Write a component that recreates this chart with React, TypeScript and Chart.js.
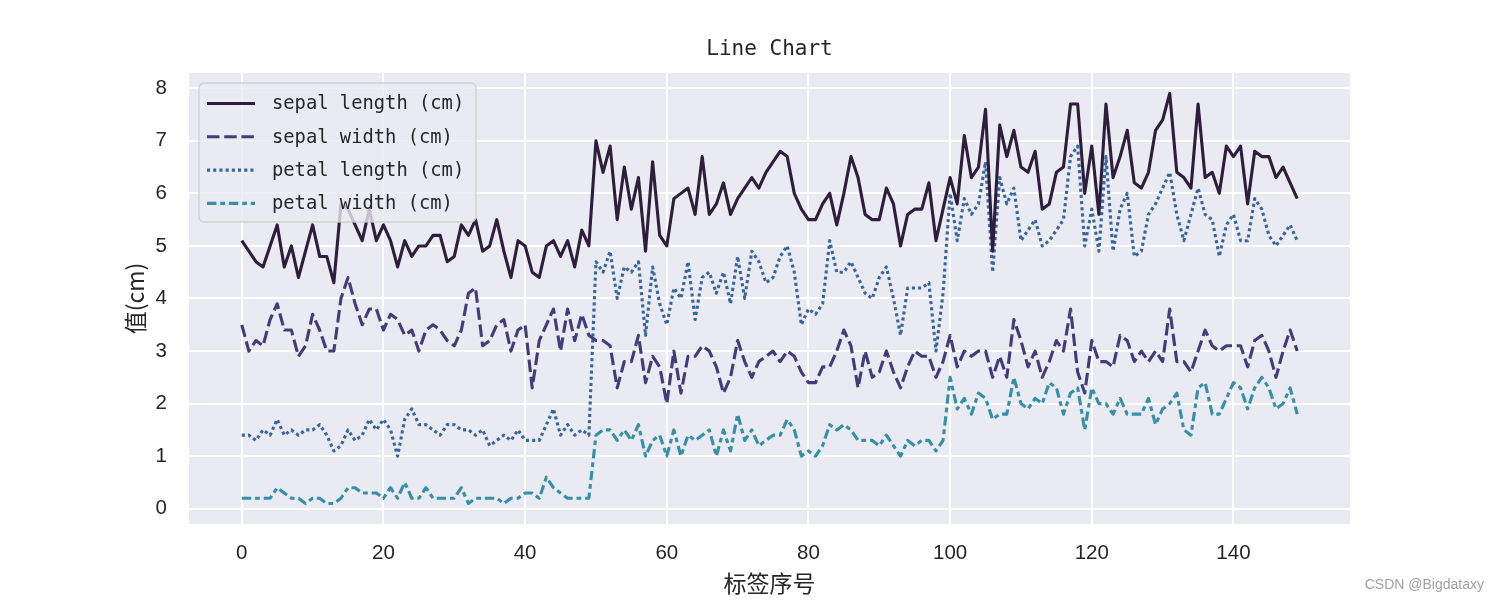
import React, { useEffect, useRef } from "react";
import { Chart, registerables } from "chart.js";

Chart.register(...registerables);

const chartTitle = "Line Chart";
const xAxisTitle = "标签序号";
const yAxisTitle = "值(cm)";
const watermark = "CSDN @Bigdataxy";

const seriesNames = ["sepal length (cm)", "sepal width (cm)", "petal length (cm)", "petal width (cm)"];
const seriesColors = ["#2e1e3b", "#413d7b", "#37659e", "#348fa7"];
const seriesDashes: number[][] = [[], [12.5, 4.7], [3.1, 3.1], [9.4, 3.9, 4.7, 3.9]];

const sepalLength = [
  5.1, 4.9, 4.7, 4.6, 5.0, 5.4, 4.6, 5.0, 4.4, 4.9, 5.4, 4.8, 4.8, 4.3, 5.8, 5.7, 5.4, 5.1, 5.7, 5.1,
  5.4, 5.1, 4.6, 5.1, 4.8, 5.0, 5.0, 5.2, 5.2, 4.7, 4.8, 5.4, 5.2, 5.5, 4.9, 5.0, 5.5, 4.9, 4.4, 5.1,
  5.0, 4.5, 4.4, 5.0, 5.1, 4.8, 5.1, 4.6, 5.3, 5.0,
  7.0, 6.4, 6.9, 5.5, 6.5, 5.7, 6.3, 4.9, 6.6, 5.2, 5.0, 5.9, 6.0, 6.1, 5.6, 6.7, 5.6, 5.8, 6.2, 5.6,
  5.9, 6.1, 6.3, 6.1, 6.4, 6.6, 6.8, 6.7, 6.0, 5.7, 5.5, 5.5, 5.8, 6.0, 5.4, 6.0, 6.7, 6.3, 5.6, 5.5,
  5.5, 6.1, 5.8, 5.0, 5.6, 5.7, 5.7, 6.2, 5.1, 5.7,
  6.3, 5.8, 7.1, 6.3, 6.5, 7.6, 4.9, 7.3, 6.7, 7.2, 6.5, 6.4, 6.8, 5.7, 5.8, 6.4, 6.5, 7.7, 7.7, 6.0,
  6.9, 5.6, 7.7, 6.3, 6.7, 7.2, 6.2, 6.1, 6.4, 7.2, 7.4, 7.9, 6.4, 6.3, 6.1, 7.7, 6.3, 6.4, 6.0, 6.9,
  6.7, 6.9, 5.8, 6.8, 6.7, 6.7, 6.3, 6.5, 6.2, 5.9,
];
const sepalWidth = [
  3.5, 3.0, 3.2, 3.1, 3.6, 3.9, 3.4, 3.4, 2.9, 3.1, 3.7, 3.4, 3.0, 3.0, 4.0, 4.4, 3.9, 3.5, 3.8, 3.8,
  3.4, 3.7, 3.6, 3.3, 3.4, 3.0, 3.4, 3.5, 3.4, 3.2, 3.1, 3.4, 4.1, 4.2, 3.1, 3.2, 3.5, 3.6, 3.0, 3.4,
  3.5, 2.3, 3.2, 3.5, 3.8, 3.0, 3.8, 3.2, 3.7, 3.3,
  3.2, 3.2, 3.1, 2.3, 2.8, 2.8, 3.3, 2.4, 2.9, 2.7, 2.0, 3.0, 2.2, 2.9, 2.9, 3.1, 3.0, 2.7, 2.2, 2.5,
  3.2, 2.8, 2.5, 2.8, 2.9, 3.0, 2.8, 3.0, 2.9, 2.6, 2.4, 2.4, 2.7, 2.7, 3.0, 3.4, 3.1, 2.3, 3.0, 2.5,
  2.6, 3.0, 2.6, 2.3, 2.7, 3.0, 2.9, 2.9, 2.5, 2.8,
  3.3, 2.7, 3.0, 2.9, 3.0, 3.0, 2.5, 2.9, 2.5, 3.6, 3.2, 2.7, 3.0, 2.5, 2.8, 3.2, 3.0, 3.8, 2.6, 2.2,
  3.2, 2.8, 2.8, 2.7, 3.3, 3.2, 2.8, 3.0, 2.8, 3.0, 2.8, 3.8, 2.8, 2.8, 2.6, 3.0, 3.4, 3.1, 3.0, 3.1,
  3.1, 3.1, 2.7, 3.2, 3.3, 3.0, 2.5, 3.0, 3.4, 3.0,
];
const petalLength = [
  1.4, 1.4, 1.3, 1.5, 1.4, 1.7, 1.4, 1.5, 1.4, 1.5, 1.5, 1.6, 1.4, 1.1, 1.2, 1.5, 1.3, 1.4, 1.7, 1.5,
  1.7, 1.5, 1.0, 1.7, 1.9, 1.6, 1.6, 1.5, 1.4, 1.6, 1.6, 1.5, 1.5, 1.4, 1.5, 1.2, 1.3, 1.4, 1.3, 1.5,
  1.3, 1.3, 1.3, 1.6, 1.9, 1.4, 1.6, 1.4, 1.5, 1.4,
  4.7, 4.5, 4.9, 4.0, 4.6, 4.5, 4.7, 3.3, 4.6, 3.9, 3.5, 4.2, 4.0, 4.7, 3.6, 4.4, 4.5, 4.1, 4.5, 3.9,
  4.8, 4.0, 4.9, 4.7, 4.3, 4.4, 4.8, 5.0, 4.5, 3.5, 3.8, 3.7, 3.9, 5.1, 4.5, 4.5, 4.7, 4.4, 4.1, 4.0,
  4.4, 4.6, 4.0, 3.3, 4.2, 4.2, 4.2, 4.3, 3.0, 4.1,
  6.0, 5.1, 5.9, 5.6, 5.8, 6.6, 4.5, 6.3, 5.8, 6.1, 5.1, 5.3, 5.5, 5.0, 5.1, 5.3, 5.5, 6.7, 6.9, 5.0,
  5.7, 4.9, 6.7, 4.9, 5.7, 6.0, 4.8, 4.9, 5.6, 5.8, 6.1, 6.4, 5.6, 5.1, 5.6, 6.1, 5.6, 5.5, 4.8, 5.4,
  5.6, 5.1, 5.1, 5.9, 5.7, 5.2, 5.0, 5.2, 5.4, 5.1,
];
const petalWidth = [
  0.2, 0.2, 0.2, 0.2, 0.2, 0.4, 0.3, 0.2, 0.2, 0.1, 0.2, 0.2, 0.1, 0.1, 0.2, 0.4, 0.4, 0.3, 0.3, 0.3,
  0.2, 0.4, 0.2, 0.5, 0.2, 0.2, 0.4, 0.2, 0.2, 0.2, 0.2, 0.4, 0.1, 0.2, 0.2, 0.2, 0.2, 0.1, 0.2, 0.2,
  0.3, 0.3, 0.2, 0.6, 0.4, 0.3, 0.2, 0.2, 0.2, 0.2,
  1.4, 1.5, 1.5, 1.3, 1.5, 1.3, 1.6, 1.0, 1.3, 1.4, 1.0, 1.5, 1.0, 1.4, 1.3, 1.4, 1.5, 1.0, 1.5, 1.1,
  1.8, 1.3, 1.5, 1.2, 1.3, 1.4, 1.4, 1.7, 1.5, 1.0, 1.1, 1.0, 1.2, 1.6, 1.5, 1.6, 1.5, 1.3, 1.3, 1.3,
  1.2, 1.4, 1.2, 1.0, 1.3, 1.2, 1.3, 1.3, 1.1, 1.3,
  2.5, 1.9, 2.1, 1.8, 2.2, 2.1, 1.7, 1.8, 1.8, 2.5, 2.0, 1.9, 2.1, 2.0, 2.4, 2.3, 1.8, 2.2, 2.3, 1.5,
  2.3, 2.0, 2.0, 1.8, 2.1, 1.8, 1.8, 1.8, 2.1, 1.6, 1.9, 2.0, 2.2, 1.5, 1.4, 2.3, 2.4, 1.8, 1.8, 2.1,
  2.4, 2.3, 1.9, 2.3, 2.5, 2.3, 1.9, 2.0, 2.3, 1.8,
];

const xTicks = [0, 20, 40, 60, 80, 100, 120, 140];
const yTicks = [0, 1, 2, 3, 4, 5, 6, 7, 8];

const seriesValues = [sepalLength, sepalWidth, petalLength, petalWidth];

const TEXT = "#262626";
const LINE_W = 3.1;

const bgPlugin = {
  id: "axesBg",
  beforeDraw(chart: any) {
    const { ctx, chartArea } = chart;
    ctx.save();
    ctx.fillStyle = "#eaeaf2";
    ctx.fillRect(chartArea.left, chartArea.top, chartArea.right - chartArea.left, chartArea.bottom - chartArea.top);
    ctx.restore();
  },
};

const legendPlugin = {
  id: "mplLegend",
  afterDraw(chart: any) {
    const { ctx, chartArea } = chart;
    ctx.save();

    // title centred over the axes area
    ctx.fillStyle = TEXT;
    ctx.font = "21px 'DejaVu Sans Mono'";
    ctx.textAlign = "center";
    ctx.textBaseline = "middle";
    ctx.fillText(chartTitle, (chartArea.left + chartArea.right) / 2, 50);

    const x0 = 199, y0 = 83, w = 277, h = 139, r = 5;
    ctx.beginPath();
    ctx.moveTo(x0 + r, y0);
    ctx.arcTo(x0 + w, y0, x0 + w, y0 + h, r);
    ctx.arcTo(x0 + w, y0 + h, x0, y0 + h, r);
    ctx.arcTo(x0, y0 + h, x0, y0, r);
    ctx.arcTo(x0, y0, x0 + w, y0, r);
    ctx.closePath();
    ctx.fillStyle = "rgba(234,234,242,0.8)";
    ctx.fill();
    ctx.strokeStyle = "rgba(204,204,204,0.8)";
    ctx.lineWidth = 1.4;
    ctx.stroke();

    chart.data.datasets.forEach((ds: any, i: number) => {
      const cy = 103.5 + i * 33.3;
      ctx.beginPath();
      ctx.setLineDash(ds.borderDash || []);
      ctx.lineCap = "butt";
      ctx.strokeStyle = ds.borderColor;
      ctx.lineWidth = LINE_W;
      ctx.moveTo(207, cy);
      ctx.lineTo(255, cy);
      ctx.stroke();
      ctx.setLineDash([]);
      ctx.fillStyle = TEXT;
      ctx.font = "18.8px 'DejaVu Sans Mono'";
      ctx.textBaseline = "middle";
      ctx.textAlign = "left";
      ctx.fillText(ds.label, 272, cy + 1);
    });

    ctx.font = "14px 'Liberation Sans', Arial, sans-serif";
    ctx.fillStyle = "#a0a0a0";
    ctx.textAlign = "right";
    ctx.textBaseline = "alphabetic";
    ctx.fillText(watermark, 1484, 589);
    ctx.restore();
  },
};

export default function App() {
  const ref = useRef<HTMLCanvasElement | null>(null);

  useEffect(() => {
    if (!ref.current) return;
    const datasets = seriesNames.map((name, i) => ({
      label: name,
      data: seriesValues[i].map((v, idx) => ({ x: idx, y: v })),
      borderColor: seriesColors[i],
      backgroundColor: seriesColors[i],
      borderWidth: LINE_W,
      borderDash: seriesDashes[i],
      borderCapStyle: "butt" as const,
      borderJoinStyle: "round" as const,
      pointRadius: 0,
      pointHoverRadius: 0,
      tension: 0,
      fill: false,
    }));

    const chart = new Chart(ref.current, {
      type: "line",
      data: { datasets },
      plugins: [bgPlugin, legendPlugin],
      options: {
        responsive: false,
        animation: false,
        devicePixelRatio: 1,
        layout: { padding: { left: 0, right: 150, top: 73, bottom: 0 } },
        plugins: {
          legend: { display: false },
          tooltip: { enabled: false },
          title: { display: false },
        },
        scales: {
          x: {
            type: "linear",
            min: -7.45,
            max: 156.45,
            afterBuildTicks: (axis: any) => {
              axis.ticks = xTicks.map((v) => ({ value: v }));
            },
            afterFit: (axis: any) => {
              axis.height = 76;
            },
            grid: { color: "#ffffff", lineWidth: 2, drawTicks: false },
            border: { display: false },
            ticks: {
              color: TEXT,
              padding: 17,
              maxRotation: 0,
              autoSkip: false,
              font: { family: "'Liberation Sans', Arial, sans-serif", size: 20.5 },
            },
            title: {
              display: true,
              text: xAxisTitle,
              color: TEXT,
              font: { family: "'Noto Sans CJK SC'", size: 23, lineHeight: 1.2 },
              padding: { top: 0, bottom: 3.2 },
            },
          },
          y: {
            type: "linear",
            min: -0.29,
            max: 8.29,
            afterBuildTicks: (axis: any) => {
              axis.ticks = yTicks.map((v) => ({ value: v }));
            },
            afterFit: (axis: any) => {
              axis.width = 189;
            },
            grid: { color: "#ffffff", lineWidth: 2, drawTicks: false },
            border: { display: false },
            ticks: {
              color: TEXT,
              padding: 22,
              font: { family: "'Liberation Sans', Arial, sans-serif", size: 20.5 },
            },
            title: {
              display: true,
              text: yAxisTitle,
              color: TEXT,
              font: { family: "'Noto Sans CJK SC'", size: 23, lineHeight: 1.2 },
              padding: { top: 121, bottom: 0 },
            },
          },
        },
      },
    });
    return () => chart.destroy();
  }, []);

  return (
    <div style={{ position: "fixed", left: 0, top: 0, width: 1500, height: 600, background: "#ffffff" }}>
      <canvas ref={ref} width={1500} height={600} style={{ width: 1500, height: 600, display: "block" }} />
    </div>
  );
}
